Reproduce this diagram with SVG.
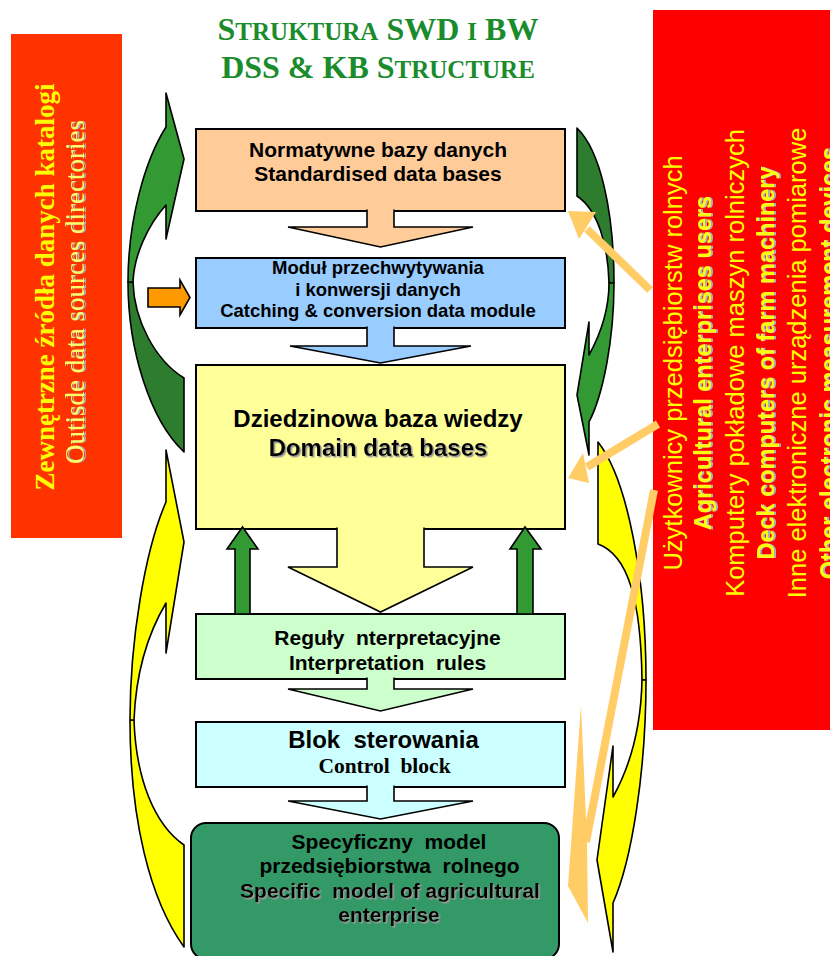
<svg xmlns="http://www.w3.org/2000/svg" width="830" height="956" viewBox="0 0 830 956">
<defs>
<filter id="sh" x="-10%" y="-30%" width="120%" height="160%"><feDropShadow dx="1.5" dy="1.5" stdDeviation="0" flood-color="#9a9a9a"/></filter>
<filter id="shr" x="-10%" y="-30%" width="120%" height="160%"><feDropShadow dx="0" dy="2" stdDeviation="0" flood-color="#a8b0b8"/></filter>
</defs>
<style>
.box{stroke:#000;stroke-width:2}
.lbl{font-family:"Liberation Sans",Arial,sans-serif;font-weight:bold;fill:#000;text-anchor:middle}
.ser{font-family:"Liberation Serif","Times New Roman",serif;text-anchor:middle}
.title{font-family:"Liberation Serif","Times New Roman",serif;font-weight:bold;fill:#1a8c2c;text-anchor:middle}
.blk{stroke:#000;stroke-width:1.6;stroke-linejoin:miter}
.crv{stroke:#000;stroke-width:1.6;stroke-linejoin:round}
.usr{font-family:"Liberation Sans",Arial,sans-serif;fill:#ffff00;text-anchor:middle}
.peach{fill:#ffcc66}
.pline{stroke:#ffcc66;stroke-width:8;fill:none}
</style>

<g id="title">
<text class="title" x="378" y="40"><tspan font-size="32">S</tspan><tspan font-size="25">TRUKTURA</tspan><tspan font-size="32"> SWD </tspan><tspan font-size="25">I</tspan><tspan font-size="32"> BW</tspan></text>
<text class="title" x="378" y="78"><tspan font-size="32">DSS &amp; KB S</tspan><tspan font-size="25">TRUCTURE</tspan></text>
</g>

<g id="node-external">
<rect x="11" y="34" width="111" height="504" fill="#ff3300"/>
<text class="ser" transform="translate(54,287) rotate(-90)" font-size="27" font-weight="bold" fill="#ffff00">Zewnętrzne źródła danych katalogi</text>
<text class="ser" transform="translate(84,292) rotate(-90)" font-size="27" fill="#ffff66" filter="url(#shr)">Outisde data sources directories</text>
</g>

<g id="node-users">
<rect x="653" y="10" width="180" height="720" fill="#ff0000"/>
<text class="usr" transform="translate(682,363) rotate(-90)" font-size="25.5">Użytkownicy przedsiębiorstw rolnych</text>
<text class="usr" transform="translate(711,363) rotate(-90)" font-size="23.5" font-weight="bold" filter="url(#shr)">Agricultural enterprises users</text>
<text class="usr" transform="translate(744,363) rotate(-90)" font-size="25.5">Komputery pokładowe maszyn rolniczych</text>
<text class="usr" transform="translate(774,363) rotate(-90)" font-size="23.5" font-weight="bold" filter="url(#shr)">Deck computers of farm machinery</text>
<text class="usr" transform="translate(806,363) rotate(-90)" font-size="25.5">Inne elektroniczne urządzenia pomiarowe</text>
<text class="usr" transform="translate(837,363) rotate(-90)" font-size="23.5" font-weight="bold" filter="url(#shr)">Other electronic measurement devices</text>
</g>

<g id="node-normatywne">
<rect class="box" x="196" y="129" width="369" height="82" fill="#ffcc99"/>
<text class="lbl" x="378" y="157" font-size="21">Normatywne bazy danych</text>
<text class="lbl" x="378" y="181" font-size="21">Standardised data bases</text>
</g>

<g id="node-modul">
<rect class="box" x="196" y="258" width="369" height="70" fill="#99ccff"/>
<text class="lbl" x="378" y="274" font-size="18.5">Moduł przechwytywania</text>
<text class="lbl" x="378" y="296" font-size="18.5">i konwersji danych</text>
<text class="lbl" x="378" y="317" font-size="18.5">Catching &amp; conversion data module</text>
</g>

<g id="node-dziedzinowa">
<rect class="box" x="196" y="365" width="369" height="164" fill="#ffff99"/>
<text class="lbl" x="378" y="427" font-size="24">Dziedzinowa baza wiedzy</text>
<text class="lbl" x="378" y="456" font-size="24" filter="url(#sh)">Domain data bases</text>
</g>

<g id="node-reguly">
<rect class="box" x="196" y="614" width="369" height="65" fill="#ccffcc"/>
<text class="lbl" x="387.5" y="645" font-size="21" xml:space="preserve">Reguły  nterpretacyjne</text>
<text class="lbl" x="387.5" y="670" font-size="21" xml:space="preserve">Interpretation  rules</text>
</g>

<g id="node-blok">
<rect class="box" x="196" y="722" width="369" height="65" fill="#ccffff"/>
<text class="lbl" x="383.5" y="748" font-size="24" xml:space="preserve">Blok  sterowania</text>
<text class="ser" x="384.5" y="773" font-size="21.5" font-weight="bold" fill="#000" xml:space="preserve">Control  block</text>
</g>

<g id="node-specyficzny">
<rect class="box" x="191" y="823" width="368" height="136" rx="15" ry="15" fill="#339966"/>
<text class="lbl" x="389" y="849" font-size="21" xml:space="preserve">Specyficzny  model</text>
<text class="lbl" x="389.5" y="873" font-size="21" xml:space="preserve">przedsiębiorstwa  rolnego</text>
<text class="lbl" x="390" y="898" font-size="21" filter="url(#sh)" xml:space="preserve">Specific  model of agricultural</text>
<text class="lbl" x="389" y="922" font-size="21" filter="url(#sh)">enterprise</text>
</g>

<g id="connectors">
<!-- left green curved arrow -->
<path class="crv" fill="#2e7d2e" d="M128,282 C128,350 150,420 184,452 L184,378 C155,360 134,320 133,282 Z"/>
<path class="crv" fill="#339933" d="M166,127 L166,93 L184,159 L166,239 L166,205 C148,225 134,255 133,282 L128,282 C128,220 145,160 166,127 Z"/>
<!-- right green curved arrow -->
<path class="crv" fill="#2e7d2e" d="M577,128 C600,150 614,210 614,283 L609,283 C608,245 598,210 577,196 Z"/>
<path class="crv" fill="#339933" d="M614,283 C614,340 603,395 589,422 L589,455 L577,395 L589,322 L589,355 C600,335 609,310 609,283 Z"/>
<!-- left yellow curved arrow -->
<path class="crv" fill="#ffff00" d="M130,720 C130,820 150,900 184,947 L184,845 C155,825 136,780 134,720 Z"/>
<path class="crv" fill="#ffff00" d="M166,502 L166,450 L184,542 L166,653 L166,603 C150,630 136,670 134,720 L130,720 C130,640 145,550 166,502 Z"/>
<!-- right yellow curved arrow -->
<path class="crv" fill="#ffff00" d="M598,442 C628,480 646,580 646,680 L642,680 C641,600 628,555 598,544 Z"/>
<path class="crv" fill="#ffff00" d="M646,680 C646,770 632,860 613,903 L613,952 L597,860 L613,746 L613,797 C628,770 641,730 642,680 Z"/>

<!-- block arrows between boxes -->
<path class="blk" fill="#ffcc99" d="M367,209.5 L367,227 L288,227 L380.5,247 L473,227 L394,227 L394,209.5"/>
<path class="blk" fill="#99ccff" d="M367,326.5 L367,346 L290,346 L380.5,363 L471,346 L394,346 L394,326.5"/>
<path class="blk" fill="#ffff99" d="M337,527.5 L337,567 L288,567 L380.5,612 L473,567 L424,567 L424,527.5"/>
<path class="blk" fill="#ccffcc" d="M367,677.5 L367,689 L288,689 L380.5,711 L473,689 L394,689 L394,677.5"/>
<path class="blk" fill="#ccffff" d="M367,785.5 L367,801 L288,801 L380.5,819 L473,801 L394,801 L394,785.5"/>

<!-- green up arrows -->
<path class="blk" fill="#339933" d="M235,614 L235,549 L227,549 L242.5,527 L258,549 L250,549 L250,614 Z"/>
<path class="blk" fill="#339933" d="M517,614 L517,549 L510,549 L525,527 L541,549 L533,549 L533,614 Z"/>

<!-- orange input arrow -->
<path class="blk" fill="#ff9900" d="M148,288 L180,288 L180,280 L190,297.5 L180,315 L180,307 L148,307 Z"/>

<!-- light orange arrows from users -->
<line class="pline" x1="650" y1="290" x2="587" y2="229"/>
<polygon class="peach" points="568,211 579,239 596,212"/>
<line class="pline" x1="658" y1="424" x2="587" y2="467"/>
<polygon class="peach" points="568,478 583,453 589,483"/>
<line class="pline" x1="654" y1="490" x2="586" y2="842"/>
<polygon class="peach" points="581,705 587,842 588,923 568,886"/>
</g>
</svg>
